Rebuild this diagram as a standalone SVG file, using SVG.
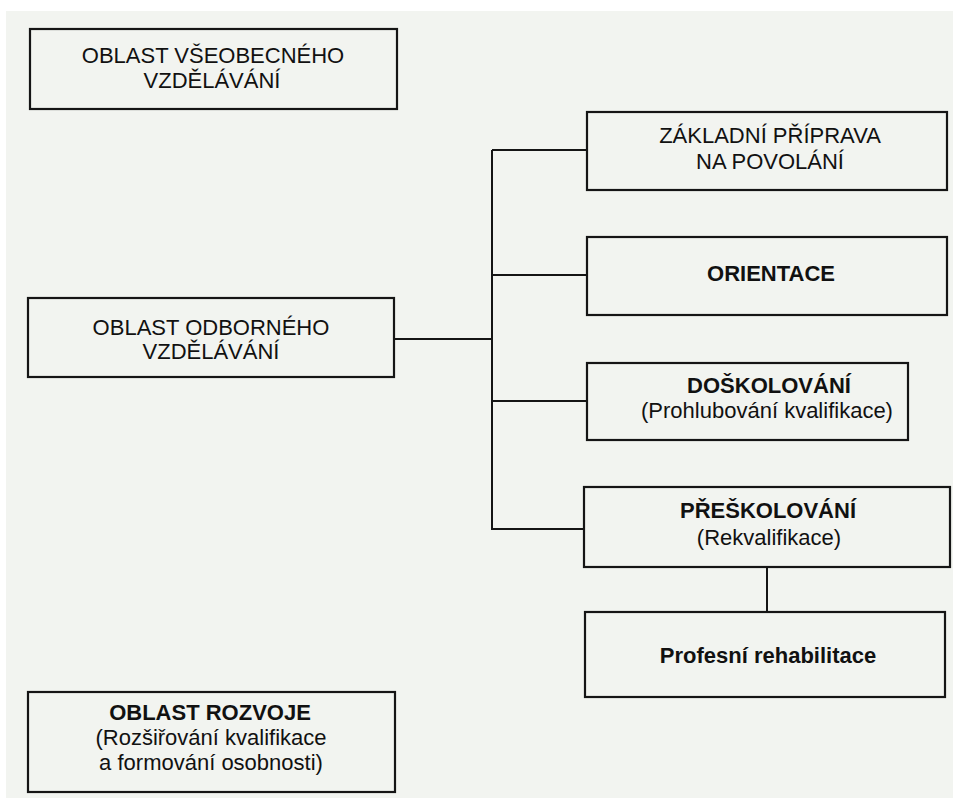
<svg xmlns="http://www.w3.org/2000/svg" width="953" height="798" viewBox="0 0 953 798">
<style>
.box{fill:none;stroke:#151515;stroke-width:2.2}
.ln{fill:none;stroke:#151515;stroke-width:2}
text{font-family:"Liberation Sans",Arial,sans-serif;font-size:22px;fill:#111;text-anchor:middle}
.b{font-weight:bold}
</style>
<rect x="0" y="0" width="953" height="798" fill="#ffffff"/>
<rect x="6" y="11" width="947" height="787" fill="#f2f4f0"/>
<g id="connectors">
<polyline class="ln" points="492,150 492,529 584,529"/>
<line class="ln" x1="492" y1="150" x2="587" y2="150"/>
<line class="ln" x1="492" y1="275" x2="587" y2="275"/>
<line class="ln" x1="394" y1="339" x2="492" y2="339"/>
<line class="ln" x1="492" y1="401" x2="587" y2="401"/>
<line class="ln" x1="767" y1="567" x2="767" y2="612"/>
</g>
<g id="n-vseobecne">
<rect class="box" x="30" y="29" width="367" height="80"/>
<text x="213" y="63">OBLAST VŠEOBECNÉHO</text>
<text x="212" y="88">VZDĚLÁVÁNÍ</text>
</g>
<g id="n-zakladni">
<rect class="box" x="587" y="112" width="360" height="78"/>
<text x="770" y="143">ZÁKLADNÍ PŘÍPRAVA</text>
<text x="770" y="169">NA POVOLÁNÍ</text>
</g>
<g id="n-orientace">
<rect class="box" x="587" y="237" width="360" height="78"/>
<text class="b" x="771" y="281">ORIENTACE</text>
</g>
<g id="n-odborne">
<rect class="box" x="28" y="298" width="366" height="79"/>
<text x="211" y="335">OBLAST ODBORNÉHO</text>
<text x="211" y="359">VZDĚLÁVÁNÍ</text>
</g>
<g id="n-doskolovani">
<rect class="box" x="587" y="363" width="321" height="77"/>
<text class="b" x="769" y="393">DOŠKOLOVÁNÍ</text>
<text x="767" y="418">(Prohlubování kvalifikace)</text>
</g>
<g id="n-preskolovani">
<rect class="box" x="584" y="487" width="366" height="80"/>
<text class="b" x="768" y="518">PŘEŠKOLOVÁNÍ</text>
<text x="769" y="545">(Rekvalifikace)</text>
</g>
<g id="n-rehabilitace">
<rect class="box" x="585" y="612" width="360" height="85"/>
<text class="b" x="768" y="663">Profesní rehabilitace</text>
</g>
<g id="n-rozvoj">
<rect class="box" x="28" y="692" width="367" height="100"/>
<text class="b" x="210" y="720">OBLAST ROZVOJE</text>
<text x="211" y="745">(Rozšiřování kvalifikace</text>
<text x="211" y="770">a formování osobnosti)</text>
</g>
</svg>
